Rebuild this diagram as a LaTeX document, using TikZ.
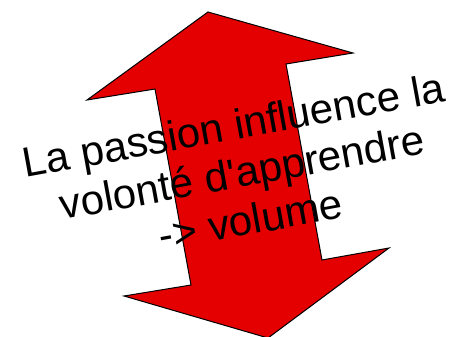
\documentclass[tikz,border=0pt]{standalone}
\usepackage{fontspec}
\setmainfont{Liberation Sans}
\usepackage{xcolor}
\definecolor{ArrowRed}{RGB}{228, 0, 0}
\usepackage{tikz}
\usetikzlibrary{calc, positioning}

\begin{document}
\begin{tikzpicture}[x=1pt, y=-1pt]

    % 0. FRAME
    \useasboundingbox (0,0) rectangle (451,337);

    % 1. THE DOUBLE ARROW
    % Tilted up-down arrow, drawn as one outline
    \filldraw[fill=ArrowRed, draw=black, line width=1pt, line join=miter]
        (208,12) -- (353,53) -- (286,64) -- (322,260) -- (389,248)
        -- (268,338) -- (124,296) -- (191,285) -- (155,89) -- (87,100) -- cycle;

    % 2. THE STATEMENT
    \node[rotate=10.3, align=center, inner sep=0pt,
          font=\fontsize{42}{48}\selectfont] (passion) at (242,172)
        {La passion influence la\\volonté d\textquotesingle apprendre\\-> volume};

\end{tikzpicture}
\end{document}
